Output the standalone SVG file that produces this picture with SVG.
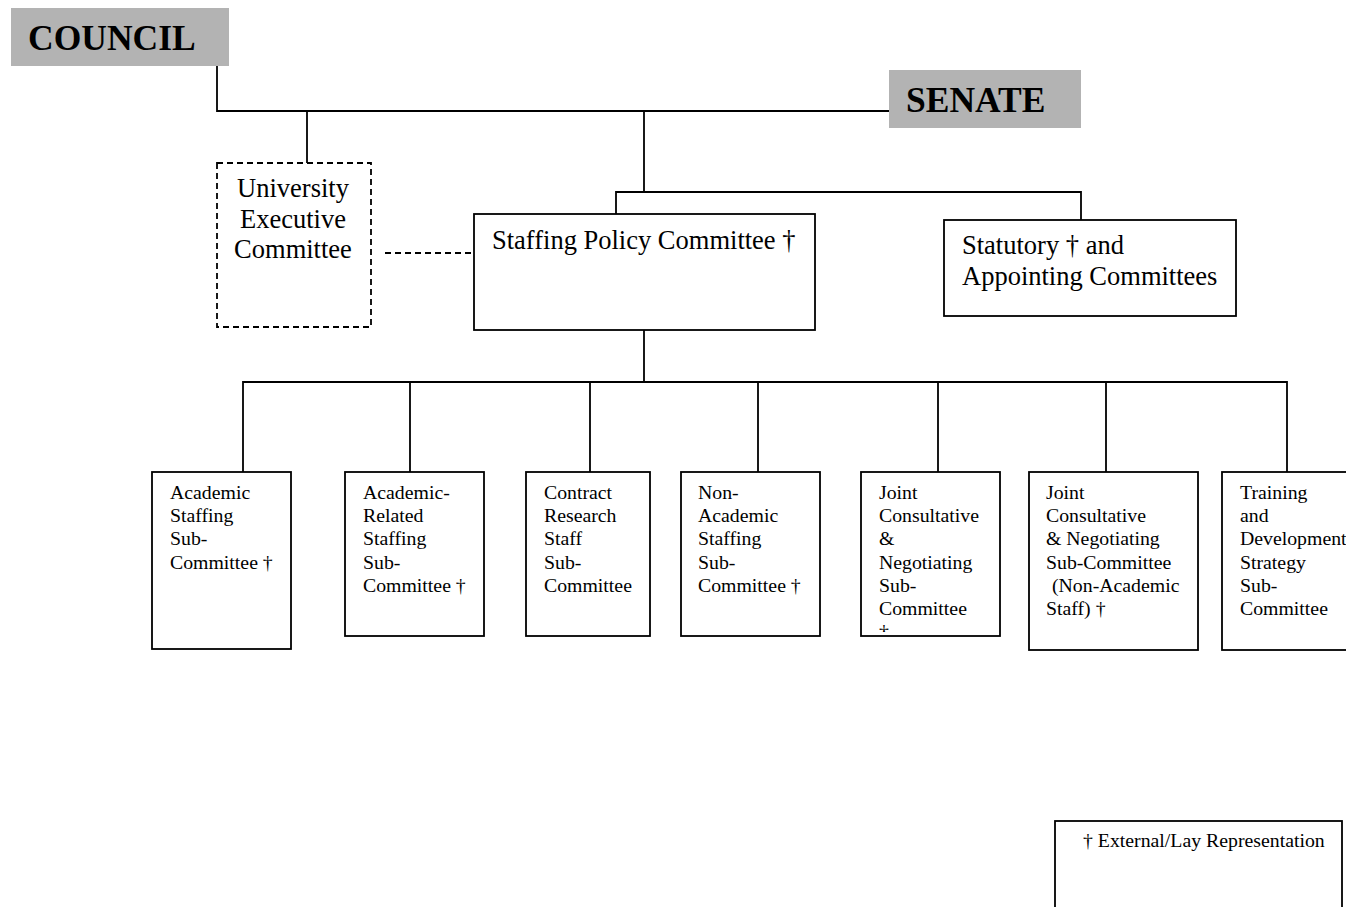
<svg xmlns="http://www.w3.org/2000/svg" width="1346" height="907" viewBox="0 0 1346 907">
<style>
.hdr{fill:#b3b3b3}
.hdrt{font-family:"Liberation Serif","Times New Roman",serif;font-weight:bold;font-size:35.5px;fill:#000}
.box{fill:#fff;stroke:#000;stroke-width:1.8}
.dbox{fill:#fff;stroke:#000;stroke-width:1.8;stroke-dasharray:6,4}
.big{font-family:"Liberation Serif","Times New Roman",serif;font-size:26.5px;fill:#000}
.sm{font-family:"Liberation Serif","Times New Roman",serif;font-size:19.8px;fill:#000}
.ln{fill:none;stroke:#000;stroke-width:1.8}
.dl{fill:none;stroke:#000;stroke-width:1.8;stroke-dasharray:6,4}
</style>
<defs>
<clipPath id="c5"><rect x="861" y="472" width="139" height="160"/></clipPath>
</defs>
<g id="connectors">
<path class="ln" d="M217 60 V111 H889"/>
<path class="ln" d="M307 111 V163"/>
<path class="ln" d="M644 111 V192"/>
<path class="ln" d="M616 218 V192 H1081 V220"/>
<path class="dl" d="M385 253 H474"/>
<path class="ln" d="M644 328 V383"/>
<path class="ln" d="M243 472 V382 H1287 V472"/>
<path class="ln" d="M410 382 V472 M590 382 V472 M758 382 V472 M938 382 V472 M1106 382 V472"/>
</g>
<g id="council">
<rect class="hdr" x="11" y="8" width="218" height="58"/>
<text class="hdrt" x="28" y="50">COUNCIL</text>
</g>
<g id="senate">
<rect class="hdr" x="889" y="70" width="192" height="58"/>
<text class="hdrt" x="906" y="112">SENATE</text>
</g>
<g id="uec">
<rect class="dbox" x="217" y="163" width="154" height="164"/>
<text class="big" text-anchor="middle"><tspan x="293" y="197">University</tspan><tspan x="293" y="228">Executive</tspan><tspan x="293" y="258">Committee</tspan></text>
</g>
<g id="spc">
<rect class="box" x="474" y="214" width="341" height="116"/>
<text class="big" x="492" y="249">Staffing Policy Committee †</text>
</g>
<g id="statutory">
<rect class="box" x="944" y="220" width="292" height="96"/>
<text class="big"><tspan x="962" y="254">Statutory † and</tspan><tspan x="962" y="285">Appointing Committees</tspan></text>
</g>
<g id="sub1">
<rect class="box" x="152" y="472" width="139" height="177"/>
<text class="sm"><tspan x="170" y="499">Academic</tspan><tspan x="170" y="522">Staffing</tspan><tspan x="170" y="545">Sub-</tspan><tspan x="170" y="569">Committee †</tspan></text>
</g>
<g id="sub2">
<rect class="box" x="345" y="472" width="139" height="164"/>
<text class="sm"><tspan x="363" y="499">Academic-</tspan><tspan x="363" y="522">Related</tspan><tspan x="363" y="545">Staffing</tspan><tspan x="363" y="569">Sub-</tspan><tspan x="363" y="592">Committee †</tspan></text>
</g>
<g id="sub3">
<rect class="box" x="526" y="472" width="124" height="164"/>
<text class="sm"><tspan x="544" y="499">Contract</tspan><tspan x="544" y="522">Research</tspan><tspan x="544" y="545">Staff</tspan><tspan x="544" y="569">Sub-</tspan><tspan x="544" y="592">Committee</tspan></text>
</g>
<g id="sub4">
<rect class="box" x="681" y="472" width="139" height="164"/>
<text class="sm"><tspan x="698" y="499">Non-</tspan><tspan x="698" y="522">Academic</tspan><tspan x="698" y="545">Staffing</tspan><tspan x="698" y="569">Sub-</tspan><tspan x="698" y="592">Committee †</tspan></text>
</g>
<g id="sub5">
<rect class="box" x="861" y="472" width="139" height="164"/>
<text class="sm" clip-path="url(#c5)"><tspan x="879" y="499">Joint</tspan><tspan x="879" y="522">Consultative</tspan><tspan x="879" y="545">&amp;</tspan><tspan x="879" y="569">Negotiating</tspan><tspan x="879" y="592">Sub-</tspan><tspan x="879" y="615">Committee</tspan><tspan x="879" y="638">†</tspan></text>
</g>
<g id="sub6">
<rect class="box" x="1029" y="472" width="169" height="178"/>
<text class="sm"><tspan x="1046" y="499">Joint</tspan><tspan x="1046" y="522">Consultative</tspan><tspan x="1046" y="545">&amp; Negotiating</tspan><tspan x="1046" y="569">Sub-Committee</tspan><tspan x="1052" y="592">(Non-Academic</tspan><tspan x="1046" y="615">Staff) †</tspan></text>
</g>
<g id="sub7">
<rect class="box" x="1222" y="472" width="140" height="178"/>
<text class="sm"><tspan x="1240" y="499">Training</tspan><tspan x="1240" y="522">and</tspan><tspan x="1240" y="545">Development</tspan><tspan x="1240" y="569">Strategy</tspan><tspan x="1240" y="592">Sub-</tspan><tspan x="1240" y="615">Committee</tspan></text>
</g>
<g id="legend">
<rect class="box" x="1055" y="821" width="287" height="100"/>
<text class="sm" x="1083" y="847">† External/Lay Representation</text>
</g>
</svg>
